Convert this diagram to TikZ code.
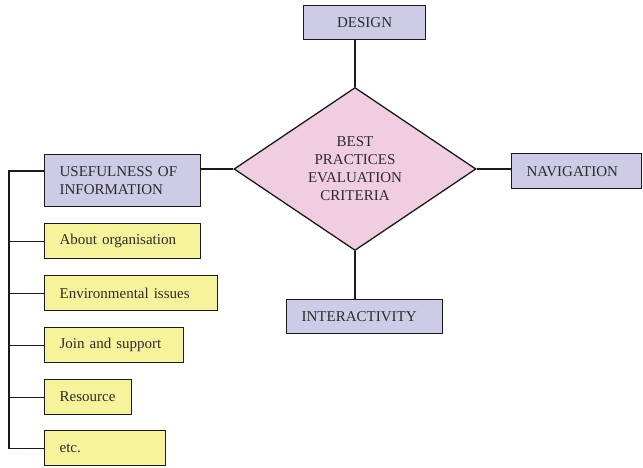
\documentclass[tikz,border=0pt]{standalone}
\usepackage{fontspec}
\setmainfont{Liberation Serif}
\usetikzlibrary{shapes.geometric}
\definecolor{lavender}{HTML}{CDCBE6}
\definecolor{paleyellow}{HTML}{F7F39B}
\definecolor{palepink}{HTML}{F0CDE1}
\definecolor{inkgray}{HTML}{2C2C2C}
\definecolor{edgegray}{HTML}{1A1A1A}
\begin{document}
\begin{tikzpicture}[x=1pt,y=-1pt,
  every node/.style={font=\fontsize{15}{18}\selectfont, text=inkgray},
  card/.style={draw=edgegray, line width=1.3pt, anchor=north west,
    inner xsep=15pt, inner ysep=0pt, align=left},
  topic/.style={card, fill=lavender},
  item/.style={card, fill=paleyellow, minimum height=35pt},
  link/.style={draw=edgegray, line width=1.3pt}]
\useasboundingbox (0,0) rectangle (643,468);

% central criterion
\node[diamond, draw=edgegray, line width=1.3pt, fill=palepink,
  minimum width=242pt, minimum height=163pt, inner sep=0pt, align=center]
  (dia) at (355,169) {BEST\\PRACTICES\\EVALUATION\\CRITERIA};

% the four criteria groups
\node[topic, minimum width=122pt, minimum height=34pt, align=center,
  inner xsep=0pt] (design) at (303,5) {DESIGN};
\node[topic, minimum width=130pt, minimum height=35pt, text width=100pt]
  (nav) at (511,153) {NAVIGATION};
\node[topic, minimum width=156pt, minimum height=34pt, text width=126pt]
  (inter) at (286,299) {INTERACTIVITY};
\node[topic, minimum width=156pt, minimum height=52pt, text width=126pt]
  (useful) at (44,154) {USEFULNESS OF\\INFORMATION};

% kinds of information
\node[item, minimum width=156pt, text width=126pt] (about) at (44,223) {About organisation};
\node[item, minimum width=173pt, text width=143pt] (env) at (44,275) {Environmental issues};
\node[item, minimum width=139pt, text width=109pt] (join) at (44,327) {Join and support};
\node[item, minimum width=87pt, text width=57pt] (res) at (44,379) {Resource};
\node[item, minimum width=121pt, text width=91pt] (etc) at (44,430) {etc.};

% connectors from the diamond
\draw[link] (dia.north) -- (dia.north |- design.south);
\draw[link] (dia.south) -- (dia.south |- inter.north);
\draw[link] (dia.east) -- (dia.east -| nav.west);
\draw[link] (dia.west) -- (dia.west -| useful.east);

% bracket on the left
\coordinate (spine) at (9,171);
\draw[link] (spine -| useful.west) -- (spine) |- (etc.west);
\foreach \n in {about,env,join,res}
  \draw[link] (\n.west) -- (\n.west -| spine);
\end{tikzpicture}
\end{document}
